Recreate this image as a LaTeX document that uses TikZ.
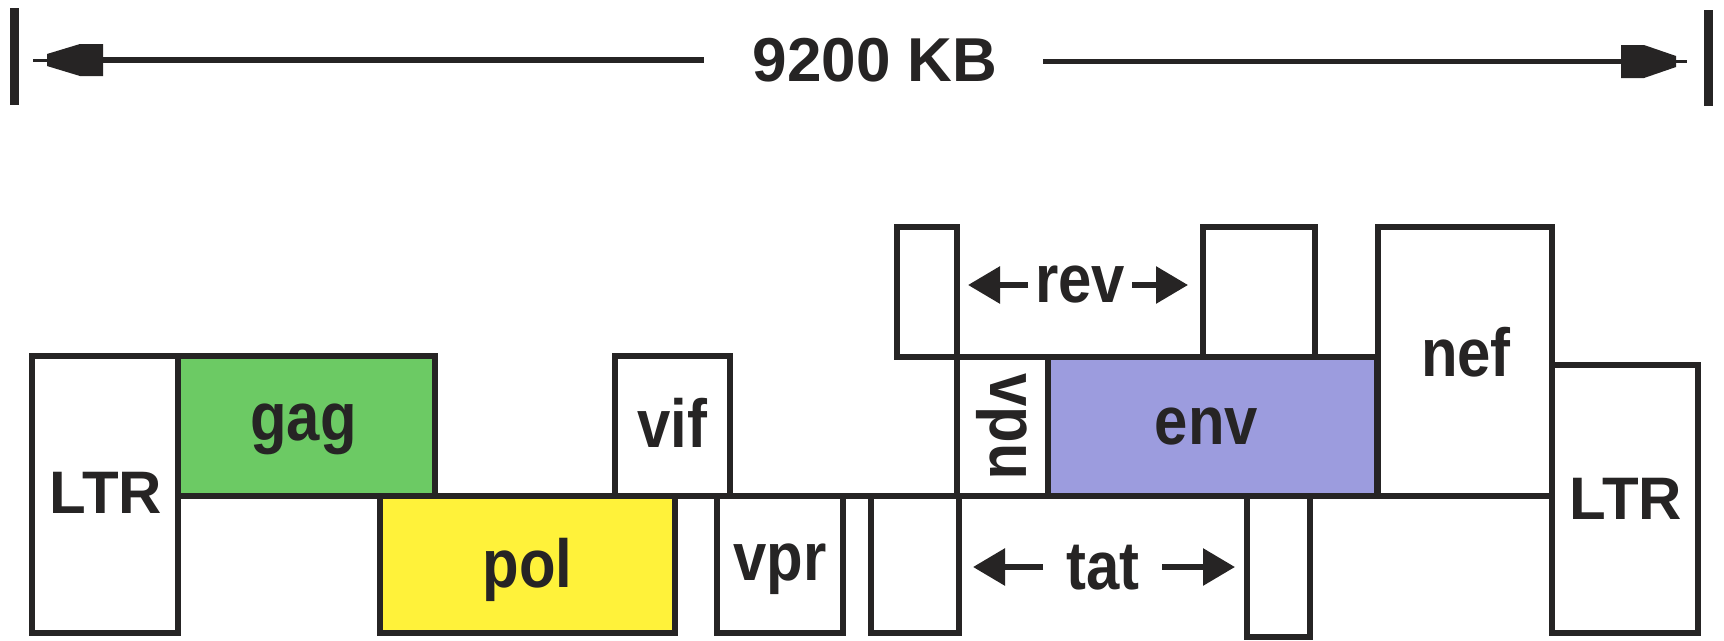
\documentclass[tikz,border=0pt]{standalone}
\usepackage{fontspec}
\setmainfont{Liberation Sans}
\newfontfamily\labfont[FakeStretch=0.88]{Liberation Sans}
\usetikzlibrary{arrows.meta}
\definecolor{ink}{RGB}{38,36,36}
\definecolor{gaggreen}{RGB}{108,202,100}
\definecolor{polyellow}{RGB}{255,242,58}
\definecolor{envblue}{RGB}{156,156,222}
\begin{document}
\begin{tikzpicture}[x=1pt,y=-1pt,
  gene/.style={draw=ink, line width=5.5pt, rectangle, inner sep=0pt, outer sep=0pt,
    anchor=north west},
  ltrfont/.style={text=ink, inner sep=0pt, font=\bfseries\fontsize{60}{60}\selectfont},
  lab/.style={text=ink, inner sep=0pt, font=\labfont\bfseries\fontsize{68}{68}\selectfont},
  bar/.style={draw=ink, line width=9pt},
  dimline/.style={draw=ink, line width=5.5pt},
  thintip/.style={draw=ink, line width=3pt},
  headfill/.style={fill=ink},
  lblarrow/.style={draw=ink, line width=6pt, -{Triangle[length=32pt,width=36pt]}}
]
\useasboundingbox (0,0) rectangle (1724,640);
\fill[white] (0,0) rectangle (1724,640);

% ---- top scale ----
\coordinate (barLt) at (14,8);  \coordinate (barLb) at (14,105);
\coordinate (barRt) at (1708,10); \coordinate (barRb) at (1708,106);
\draw[bar] (barLt) -- (barLb);
\draw[bar] (barRt) -- (barRb);
\node[text=ink, inner sep=0pt, font=\bfseries\fontsize{62}{62}\selectfont] (size) at (875,60) {9200 KB};
% left dimension arrow
\coordinate (tipL) at (33,60); \coordinate (baseL) at (103,60); \coordinate (endL) at (704,60);
\draw[dimline] (baseL) -- (endL);
\draw[thintip] (tipL) -- (baseL);
\fill[headfill] (103,44) -- (80,44) -- (47,54) -- (47,66) -- (80,76) -- (103,76) -- cycle;
% right dimension arrow
\coordinate (startR) at (1043,61.5); \coordinate (baseR) at (1621,61.5); \coordinate (tipR) at (1687,61.5);
\draw[dimline] (startR) -- (baseR);
\draw[thintip] (baseR) -- (tipR);
\fill[headfill] (1621,45) -- (1644,45) -- (1676,56) -- (1676,67) -- (1644,78) -- (1621,78) -- cycle;

% ---- genes ----
\node[gene, minimum width=146pt, minimum height=277pt] (ltrL) at (32,356) {};
\node[gene, fill=gaggreen, minimum width=257pt, minimum height=140pt] (gag) at (178,356) {};
\node[gene, fill=polyellow, minimum width=295pt, minimum height=137pt] (pol) at (380,496) {};
\node[gene, minimum width=115pt, minimum height=140pt] (vif) at (615,356) {};
\node[gene, minimum width=126pt, minimum height=137pt] (vpr) at (717,496) {};
\node[gene, minimum width=88pt, minimum height=137pt] (tat1) at (871,496) {};
\node[gene, minimum width=60pt, minimum height=130pt] (rev1) at (897,227) {};
\node[gene, minimum width=91pt, minimum height=139pt] (vpu) at (957,357) {};
\node[gene, fill=envblue, minimum width=329pt, minimum height=139pt] (env) at (1048,357) {};
\node[gene, minimum width=112pt, minimum height=130pt] (rev2) at (1203,227) {};
\node[gene, minimum width=174pt, minimum height=269pt] (nef) at (1378,227) {};
\node[gene, minimum width=63pt, minimum height=141pt] (tat2) at (1247,496) {};
\node[gene, minimum width=146pt, minimum height=268pt] (ltrR) at (1552,365) {};

% genome baseline
\draw[draw=ink, line width=5.5pt] (gag.south west) -- (nef.south east);

% ---- gene labels ----
\node[ltrfont] (ltrLlab) at ([xshift=1pt,yshift=2pt]ltrL.center) {LTR};
\node[ltrfont] (ltrRlab) at ([xshift=1pt]ltrR.center) {LTR};
\node[lab] (gaglab) at ([xshift=-3pt,yshift=-3pt]gag.center) {gag};
\node[lab] (pollab) at ([yshift=-5pt]pol.center) {pol};
\node[lab] (viflab) at ([yshift=3pt]vif.center) {vif};
\node[lab] (vprlab) at ([yshift=-5pt]vpr.center) {vpr};
\node[lab] (envlab) at ([xshift=-6pt]env.center) {env};
\node[lab] (neflab) at (1466,352) {nef};
\node[lab, rotate=-90] (vpulab) at ([xshift=-1pt]vpu.center) {vpu};

% ---- rev label ----
\node[lab] (revlab) at (1080,285) {rev};
\coordinate (revLs) at (1028,285); \coordinate (revLt) at (968,285);
\coordinate (revRs) at (1132,285); \coordinate (revRt) at (1188,285);
\draw[lblarrow] (revLs) -- (revLt);
\draw[lblarrow] (revRs) -- (revRt);

% ---- tat label ----
\node[lab] (tatlab) at (1103,568) {tat};
\coordinate (tatLs) at (1043,567); \coordinate (tatLt) at (973,567);
\coordinate (tatRs) at (1162,567); \coordinate (tatRt) at (1235,567);
\draw[lblarrow] (tatLs) -- (tatLt);
\draw[lblarrow] (tatRs) -- (tatRt);
\end{tikzpicture}
\end{document}
